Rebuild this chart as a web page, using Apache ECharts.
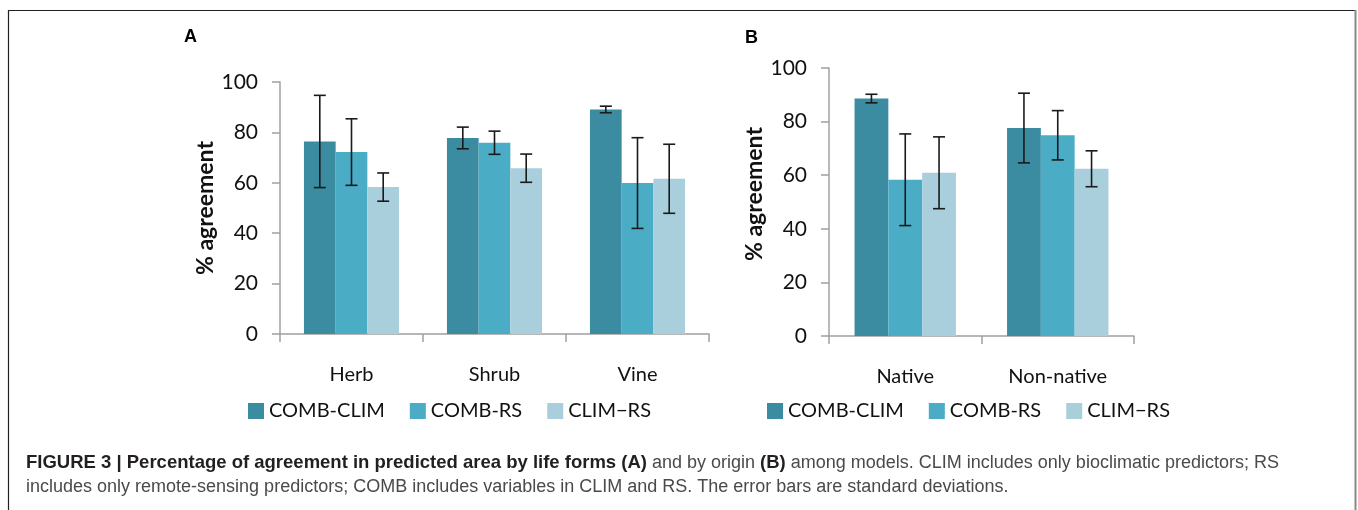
<!DOCTYPE html>
<html>
<head>
<meta charset="utf-8">
<script src="https://cdn.jsdelivr.net/npm/echarts@6/dist/echarts.min.js"></script>
<style>
html,body{margin:0;padding:0;background:#fff;}
#chart{width:1358px;height:510px;}
</style>
</head>
<body>
<div id="chart"></div>
<script>
// ---- Data ----
const seriesNames = ['COMB-CLIM', 'COMB-RS', 'CLIM\u2212RS'];
const yTicks = [0, 20, 40, 60, 80, 100];

// Panel A: life forms
const catsA = ['Herb', 'Shrub', 'Vine'];
const aCombClim = [76.4, 77.8, 89.1];
const aCombRs   = [72.2, 75.9, 59.9];
const aClimRs   = [58.3, 65.8, 61.6];
const aCombClimSd = [18.3, 4.3, 1.3];
const aCombRsSd   = [13.2, 4.6, 18.0];
const aClimRsSd   = [5.6, 5.6, 13.7];

// Panel B: origin
const catsB = ['Native', 'Non-native'];
const bCombClim = [88.6, 77.6];
const bCombRs   = [58.3, 74.9];
const bClimRs   = [60.9, 62.4];
const bCombClimSd = [1.6, 13.0];
const bCombRsSd   = [17.1, 9.2];
const bClimRsSd   = [13.4, 6.7];

const colors = ['#3b8ba1', '#4bacc6', '#a9cfdd'];
const GAP = 0.335;
const FONT = 'Lato';

const chart = echarts.init(document.getElementById('chart'), null, {renderer: 'canvas'});

function makeAxes(gi, cats, namePad) {
  const x = {
    type: 'category', gridIndex: gi, data: cats,
    axisLine: {lineStyle: {color: '#a0a0a0', width: 1.5}},
    axisTick: {show: true, length: 8, lineStyle: {color: '#a0a0a0', width: 1.5}},
    axisLabel: {margin: 31, fontFamily: FONT, fontSize: 20, color: '#111'}
  };
  const y = {
    type: 'value', gridIndex: gi, min: yTicks[0], max: yTicks[yTicks.length - 1], interval: 20,
    name: '% agreement', nameLocation: 'middle', nameGap: 58,
    nameTextStyle: {fontFamily: FONT, fontSize: 23, fontWeight: 'bold', color: '#111', padding: namePad},
    axisLine: {show: true, lineStyle: {color: '#a0a0a0', width: 1.5}},
    axisTick: {show: true, length: 8, lineStyle: {color: '#a0a0a0', width: 1.5}},
    splitLine: {show: false},
    axisLabel: {margin: 22, fontFamily: FONT, fontSize: 21, color: '#111'}
  };
  return [x, y];
}

const [xA, yA] = makeAxes(0, catsA, [0, 0, 0, 0]);
const [xB, yB] = makeAxes(1, catsB, [0, 0, 0, 16]);

function barSeries(name, gi, data, k) {
  return {
    name: name, type: 'bar', xAxisIndex: gi, yAxisIndex: gi,
    data: data, barGap: '0%', barCategoryGap: (GAP * 100) + '%',
    itemStyle: {color: colors[k]}, silent: true
  };
}

function errSeries(gi, means, sds, k) {
  return {
    name: 'err' + gi + '_' + k, type: 'custom', xAxisIndex: gi, yAxisIndex: gi,
    data: means.map((m, i) => [i, m, sds[i]]),
    encode: {x: 0, y: 1}, z: 10, silent: true,
    renderItem: function (params, api) {
      const i = api.value(0), m = api.value(1), s = api.value(2);
      const top = api.coord([i, m + s]);
      const bot = api.coord([i, m - s]);
      const band = api.size([1, 0])[0];
      const bw = band * (1 - GAP) / 3;
      const cx = top[0] + (k - 1) * bw;
      const h = 6;
      const st = {stroke: '#1a1a1a', lineWidth: 1.6};
      return {
        type: 'group',
        children: [
          {type: 'line', shape: {x1: cx, y1: top[1], x2: cx, y2: bot[1]}, style: st},
          {type: 'line', shape: {x1: cx - h, y1: top[1], x2: cx + h, y2: top[1]}, style: st},
          {type: 'line', shape: {x1: cx - h, y1: bot[1], x2: cx + h, y2: bot[1]}, style: st}
        ]
      };
    }
  };
}

const legendCommon = {
  icon: 'rect', itemWidth: 16, itemHeight: 16, itemGap: 25, itemStyle: {borderWidth: 0},
  textStyle: {fontFamily: FONT, fontSize: 20, color: '#111'},
  selectedMode: false, data: seriesNames
};

const capNormal = '#4a4a4a';
const capBold = '#231f20';

const option = {
  animation: false,
  backgroundColor: '#fff',
  grid: [
    {left: 280, top: 82, width: 429, height: 252, containLabel: false},
    {left: 829, top: 68, width: 305, height: 268, containLabel: false}
  ],
  xAxis: [xA, xB],
  yAxis: [yA, yB],
  legend: [
    Object.assign({left: 243, top: 396}, legendCommon),
    Object.assign({left: 762, top: 396}, legendCommon)
  ],
  series: [
    barSeries(seriesNames[0], 0, aCombClim, 0),
    barSeries(seriesNames[1], 0, aCombRs, 1),
    barSeries(seriesNames[2], 0, aClimRs, 2),
    barSeries(seriesNames[0], 1, bCombClim, 0),
    barSeries(seriesNames[1], 1, bCombRs, 1),
    barSeries(seriesNames[2], 1, bClimRs, 2),
    errSeries(0, aCombClim, aCombClimSd, 0),
    errSeries(0, aCombRs, aCombRsSd, 1),
    errSeries(0, aClimRs, aClimRsSd, 2),
    errSeries(1, bCombClim, bCombClimSd, 0),
    errSeries(1, bCombRs, bCombRsSd, 1),
    errSeries(1, bClimRs, bClimRsSd, 2)
  ],
  graphic: [
    {type: 'line', shape: {x1: 8, y1: 10.5, x2: 1356, y2: 10.5}, style: {stroke: '#222', lineWidth: 1.2}},
    {type: 'line', shape: {x1: 8.5, y1: 10, x2: 8.5, y2: 510}, style: {stroke: '#222', lineWidth: 1.2}},
    {type: 'line', shape: {x1: 1355.5, y1: 10, x2: 1355.5, y2: 510}, style: {stroke: '#888', lineWidth: 2}},
    {type: 'text', x: 184, y: 37, style: {text: 'A', font: 'bold 18px "Liberation Sans", Arial, sans-serif', fill: '#000', verticalAlign: 'middle'}},
    {type: 'text', x: 745, y: 38, style: {text: 'B', font: 'bold 18px "Liberation Sans", Arial, sans-serif', fill: '#000', verticalAlign: 'middle'}},
    {type: 'text', x: 26, y: 463, style: {
      text: '{b|FIGURE 3 | Percentage of agreement in predicted area by life forms (A)}{n| and by origin }{b|(B)}{n| among models. CLIM includes only bioclimatic predictors; RS}',
      verticalAlign: 'middle',
      rich: {
        b: {font: 'bold 18.5px "Liberation Sans", Arial, sans-serif', fill: capBold},
        n: {font: '18px "Liberation Sans", Arial, sans-serif', fill: capNormal}
      }
    }},
    {type: 'text', x: 26, y: 487, style: {
      text: 'includes only remote-sensing predictors; COMB includes variables in CLIM and RS. The error bars are standard deviations.',
      font: '18px "Liberation Sans", Arial, sans-serif', fill: capNormal, verticalAlign: 'middle'
    }}
  ]
};

chart.setOption(option);
</script>
</body>
</html>
